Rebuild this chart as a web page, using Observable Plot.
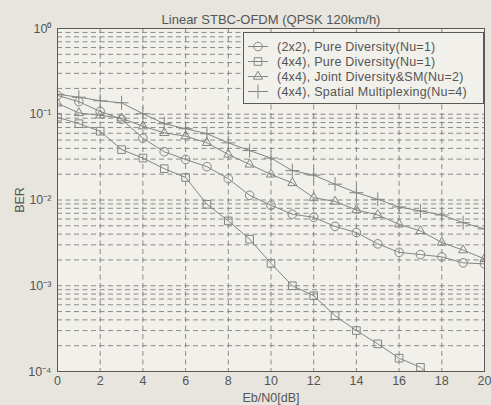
<!DOCTYPE html>
<html><head><meta charset="utf-8">
<script src="https://cdn.jsdelivr.net/npm/d3@7"></script>
<script src="https://cdn.jsdelivr.net/npm/@observablehq/plot@0.6"></script>
<style>
body{margin:0;background:#e7e5dd;}
#wrap{position:relative;width:491px;height:405px;font-family:"Liberation Sans",Arial,sans-serif;}
#legend{position:absolute;left:243px;top:32px;}
</style></head><body><div id="wrap"></div>
<script>
const snr = [0,1,2,3,4,5,6,7,8,9,10,11,12,13,14,15,16,17,18,19,20];
const seriesNames = [
  "(2x2), Pure Diversity(Nu=1)",
  "(4x4), Pure Diversity(Nu=1)",
  "(4x4), Joint Diversity&SM(Nu=2)",
  "(4x4), Spatial Multiplexing(Nu=4)"
];
const berPD2x2 = [0.166,0.140,0.108,0.0875,0.0526,0.0365,0.0297,0.0245,0.0177,0.01135,0.00867,0.00682,0.00629,0.00492,0.00417,0.00308,0.00245,0.00231,0.00217,0.00185,0.00180];
const berPD4x4 = [0.0923,0.0776,0.0634,0.0387,0.0308,0.0232,0.0183,0.00891,0.00570,0.00349,0.00182,0.00100,0.000765,0.000448,0.000300,0.000210,0.000143,0.000112,0.00007];
const berJDSM = [0.134,0.1035,0.0973,0.0898,0.0725,0.0607,0.0555,0.0464,0.0340,0.0260,0.0199,0.0158,0.01064,0.00961,0.00765,0.00669,0.00521,0.00436,0.00319,0.00260,0.00206];
const berSM = [0.171,0.158,0.1436,0.136,0.1014,0.0776,0.0678,0.0593,0.0464,0.0377,0.0308,0.0220,0.0195,0.0153,0.01216,0.01019,0.00829,0.00745,0.00669,0.00544,0.00460];
const symbols = ["circle","square","triangle","plus"];
const markerR = [4.3, 4.3, 3.4, 4.6];
const xTicks = [0,2,4,6,8,10,12,14,16,18,20];
const yTicks = [1e-4,1e-3,1e-2,1e-1,1];
const yTickLabels = ["10\u207B\u2074","10\u207B\u00B3","10\u207B\u00B2","10\u207B\u00B9","10\u2070"];
const title = "Linear STBC-OFDM (QPSK 120km/h)";

const allSeries = [berPD2x2, berPD4x4, berJDSM, berSM];
const data = [];
allSeries.forEach((arr, i) => arr.forEach((v, j) => data.push({snr: snr[j], ber: v, series: seriesNames[i]})));

const yGrid = [];
for (let e = -4; e < 0; e++) for (let k = 1; k <= 9; k++) yGrid.push(k * Math.pow(10, e));

const lineColor = "#858585";
const font = '"Liberation Sans",Arial,sans-serif';
const gridStyle = {stroke: "#808080", strokeOpacity: 0.9, strokeDasharray: "5,3.5", strokeWidth: 1};

const chart = Plot.plot({
  width: 491, height: 405,
  marginLeft: 57, marginRight: 7, marginTop: 28, marginBottom: 34,
  style: {fontFamily: font, fontSize: "12.5px", color: "#555", background: "transparent"},
  x: {domain: [0, 20]},
  y: {type: "log", domain: [1e-4, 1]},
  marks: [
    Plot.frame({fill: "#f1f0ea"}),
    Plot.gridX(xTicks, gridStyle),
    Plot.gridY(yGrid, gridStyle),
    Plot.axisX({ticks: xTicks, tickSize: 0, tickPadding: 5, label: "Eb/N0[dB]", labelAnchor: "center", labelArrow: "none", labelOffset: 30}),
    Plot.axisY({ticks: yTicks, tickFormat: d => yTickLabels[yTicks.indexOf(d)], tickSize: 0, tickPadding: 6, label: "BER", labelAnchor: "center", labelArrow: "none", labelOffset: 42}),
    Plot.line(data, {x: "snr", y: "ber", z: "series", stroke: lineColor, strokeWidth: 1, clip: true}),
    ...seriesNames.map((name, i) => Plot.dot(data.filter(d => d.series === name), {
      x: "snr", y: "ber", symbol: symbols[i], r: markerR[i], stroke: lineColor, strokeWidth: 1, fill: "none", clip: true
    })),
    Plot.frame({stroke: "#5a5a5a", strokeWidth: 1}),
    Plot.text([title], {frameAnchor: "top", dy: -14, fontSize: 13, fill: "#555"})
  ]
});
document.getElementById("wrap").appendChild(chart);

// legend
const lw = 241, lh = 72;
const leg = d3.select("#wrap").append("svg").attr("id", "legend").attr("width", lw).attr("height", lh);
leg.append("rect").attr("x", 0.5).attr("y", 0.5).attr("width", lw - 1).attr("height", lh - 1)
  .attr("fill", "#f1f0ea").attr("stroke", "#5a5a5a");
const d3sym = {circle: d3.symbolCircle, square: d3.symbolSquare, triangle: d3.symbolTriangle, plus: d3.symbolPlus};
seriesNames.forEach((name, i) => {
  const g = leg.append("g").attr("transform", `translate(0,${14.5 + i * 15})`);
  g.append("line").attr("x1", 5).attr("x2", 25).attr("stroke", lineColor);
  g.append("path").attr("transform", "translate(15,0)")
    .attr("d", d3.symbol(d3sym[symbols[i]], Math.PI * markerR[i] * markerR[i])())
    .attr("fill", "none").attr("stroke", lineColor);
  g.append("text").attr("x", 34).attr("dy", "0.35em").attr("fill", "#555")
    .attr("font-size", 12.5).attr("letter-spacing", "0.25px").attr("font-family", font).text(name);
});
</script></body></html>
